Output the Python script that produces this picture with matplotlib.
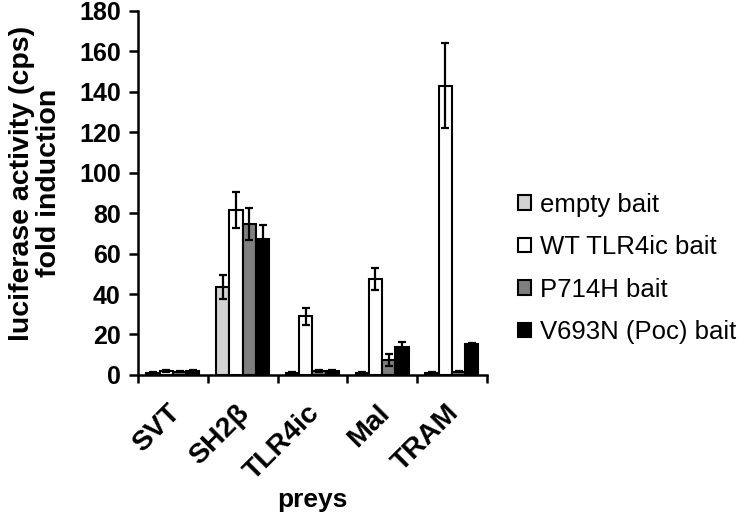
import numpy as np
import matplotlib
matplotlib.use("Agg")
import matplotlib.pyplot as plt
import matplotlib.transforms as mtransforms
from matplotlib.patches import Patch

categories = ["SVT", "SH2β", "TLR4ic", "Mal", "TRAM"]
series = ["empty bait", "WT TLR4ic bait", "P714H bait", "V693N (Poc) bait"]
empty_vals = [1.0, 43.5, 1.0, 1.0, 1.0]
empty_err = [0.3, 6.0, 0.3, 0.3, 0.3]
wt_vals = [2.0, 81.5, 29.0, 47.5, 143.0]
wt_err = [0.5, 9.0, 4.3, 5.5, 21.0]
p714h_vals = [1.5, 74.5, 2.0, 7.5, 1.5]
p714h_err = [0.3, 8.0, 0.5, 3.0, 0.3]
v693n_vals = [2.0, 67.0, 2.0, 14.0, 15.5]
v693n_err = [0.5, 7.0, 0.5, 2.5, 0.5]
colors = ["#d3d3d3", "#ffffff", "#7f7f7f", "#000000"]

plt.rcParams["font.family"] = ["Liberation Sans", "DejaVu Sans"]

fig = plt.figure(figsize=(7.5, 5.15), dpi=100)
ax = fig.add_axes([0.184, 0.272, 0.465, 0.707])

vals = [empty_vals, wt_vals, p714h_vals, v693n_vals]
errs = [empty_err, wt_err, p714h_err, v693n_err]
x = np.arange(len(categories))
w = 0.19
for i, (v, e, c, s) in enumerate(zip(vals, errs, colors, series)):
    ax.bar(x + (i - 1.5) * w, v, w, color=c, edgecolor="black", linewidth=1.5,
           yerr=e, capsize=3, error_kw=dict(elinewidth=1.6, capthick=1.6, ecolor="black"),
           label=s, zorder=2)

ax.set_xlim(-0.5, len(categories) - 0.5)
ax.set_ylim(0, 180)
ax.set_yticks(np.arange(0, 181, 20))
ax.set_xticks(np.arange(-0.5, len(categories), 1.0))
ax.set_xticklabels([])
ax.set_xticks(x, minor=True)
ax.set_xticklabels(categories, minor=True, rotation=45, ha="right",
                   rotation_mode="anchor", fontsize=20.5, fontweight="bold")
ax.tick_params(axis="x", which="minor", length=0, pad=18)
ax.tick_params(axis="x", which="major", length=5.5, width=1.8, direction="out")
ax.tick_params(axis="y", length=6.5, width=1.8, direction="out", labelsize=18, pad=6)
offset = mtransforms.ScaledTranslation(-6 / 100, 0, fig.dpi_scale_trans)
for lbl in ax.get_xticklabels(minor=True):
    lbl.set_transform(lbl.get_transform() + offset)
for lbl in ax.get_yticklabels():
    lbl.set_fontweight("bold")
for sp in ["top", "right"]:
    ax.spines[sp].set_visible(False)
for sp in ["left", "bottom"]:
    ax.spines[sp].set_linewidth(1.8)

ax.set_ylabel("luciferase activity (cps)\nfold induction", fontsize=20.5,
              fontweight="bold", linespacing=1.05)
ax.yaxis.set_label_coords(-0.218, 0.527)
ax.set_xlabel("preys", fontsize=19, fontweight="bold")
ax.xaxis.set_label_coords(0.5, -0.31)

handles = [Patch(facecolor=c, edgecolor="black", linewidth=1.5, label=s)
           for c, s in zip(colors, series)]
fig.legend(handles=handles, loc="center left", bbox_to_anchor=(0.691, 0.479),
           frameon=False, fontsize=18.5, handlelength=0.5, handleheight=0.5,
           handletextpad=0.35, labelspacing=0.72, borderpad=0, borderaxespad=0)

fig.savefig("out.png", dpi=100)
